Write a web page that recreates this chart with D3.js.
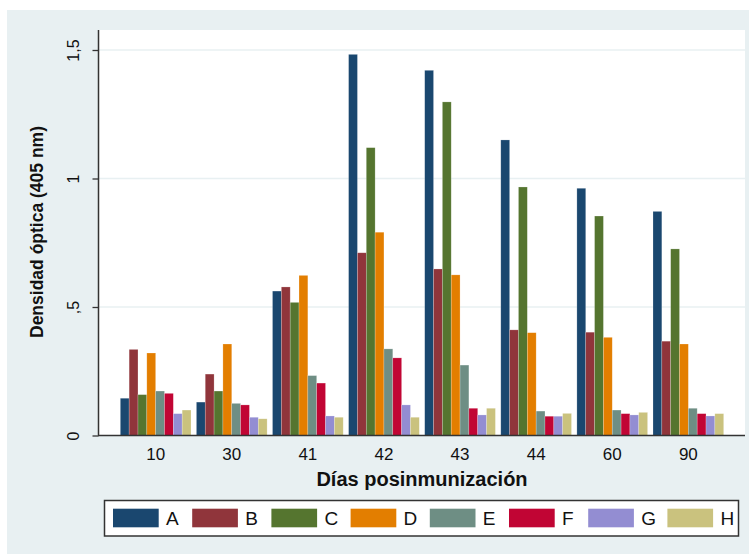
<!DOCTYPE html>
<html>
<head>
<meta charset="utf-8">
<script src="https://cdn.jsdelivr.net/npm/d3@7"></script>
<style>
  html, body { margin: 0; padding: 0; background: #ffffff; }
  svg { display: block; font-family: "Liberation Sans", Arial, sans-serif; }
</style>
</head>
<body>
<svg id="chart" width="750" height="554"></svg>
<script>
// Days after immunization (x categories) and the eight groups (series)
const days = ["10", "30", "41", "42", "43", "44", "60", "90"];
const groups = ["A", "B", "C", "D", "E", "F", "G", "H"];
const colors = ["#1a476f", "#90353b", "#55752f", "#e37e00", "#6e8e84", "#c10534", "#938dd2", "#cac27e"];

// Optical density (405 nm) per group, one value per day
const seriesA = [0.145, 0.130, 0.562, 1.483, 1.421, 1.150, 0.962, 0.872];
const seriesB = [0.335, 0.239, 0.578, 0.711, 0.648, 0.411, 0.402, 0.367];
const seriesC = [0.159, 0.173, 0.518, 1.120, 1.298, 0.967, 0.854, 0.726];
const seriesD = [0.321, 0.356, 0.623, 0.791, 0.625, 0.400, 0.382, 0.356];
const seriesE = [0.173, 0.125, 0.233, 0.337, 0.274, 0.095, 0.099, 0.106];
const seriesF = [0.164, 0.119, 0.204, 0.302, 0.106, 0.075, 0.085, 0.085];
const seriesG = [0.085, 0.071, 0.076, 0.119, 0.080, 0.075, 0.080, 0.076];
const seriesH = [0.099, 0.065, 0.071, 0.071, 0.106, 0.086, 0.090, 0.085];
const series = [seriesA, seriesB, seriesC, seriesD, seriesE, seriesF, seriesG, seriesH];

const yTicks = [0, 0.5, 1, 1.5];
const yTickLabels = ["0", ",5", "1", "1,5"];

const svg = d3.select("#chart");
const bg = "#e8f0f2";
const ink = "#111111";

// Outer graph region
svg.append("rect").attr("x", 7).attr("y", 10).attr("width", 742).attr("height", 544).attr("fill", bg);

// Plot region
const plot = { left: 99, right: 745, top: 30, bottom: 435.5 };
svg.append("rect")
  .attr("x", plot.left).attr("y", plot.top)
  .attr("width", plot.right - plot.left).attr("height", plot.bottom - plot.top)
  .attr("fill", "#ffffff");

const y = d3.scaleLinear().domain([0, 1.5]).range([plot.bottom, plot.bottom - 1.5 * 257]);
const x0 = d3.scaleBand().domain(days).range([plot.left, plot.right])
  .paddingInner(0.071).paddingOuter(0.28);
const x1 = d3.scaleBand().domain(groups).range([0, x0.bandwidth()]);

// Horizontal grid lines
svg.append("g").selectAll("line")
  .data(yTicks.filter(d => d > 0))
  .join("line")
  .attr("x1", plot.left).attr("x2", plot.right)
  .attr("y1", d => y(d)).attr("y2", d => y(d))
  .attr("stroke", bg).attr("stroke-width", 1.5);

// Bars
const rows = days.map((d, i) => ({ day: d, values: groups.map((g, j) => ({ g, j, v: series[j][i] })) }));
svg.append("g").selectAll("g")
  .data(rows)
  .join("g")
  .attr("transform", d => `translate(${x0(d.day)},0)`)
  .selectAll("rect")
  .data(d => d.values)
  .join("rect")
  .attr("x", d => x1(d.g))
  .attr("y", d => y(d.v))
  .attr("width", x1.bandwidth())
  .attr("height", d => y(0) - y(d.v))
  .attr("fill", d => colors[d.j])
  .attr("stroke", "#ffffff").attr("stroke-opacity", 0.35).attr("stroke-width", 0.6);

// Y axis (tick labels rotated, centred on each tick)
const yAxis = d3.axisLeft(y).tickValues(yTicks).tickSize(6).tickPadding(0)
  .tickFormat((d, i) => yTickLabels[i]);
const gy = svg.append("g").attr("transform", `translate(${plot.left - 0.5},0)`).call(yAxis);
gy.select(".domain").attr("stroke", "#333").attr("stroke-width", 1.5)
  .attr("d", `M0,${plot.top}V${plot.bottom}`);
gy.selectAll(".tick line").attr("stroke", "#333").attr("stroke-width", 1.3);
gy.selectAll(".tick text")
  .attr("fill", ink).attr("font-size", 16)
  .attr("text-anchor", "middle")
  .attr("x", -25).attr("y", 0).attr("dy", "0.35em")
  .attr("transform", "rotate(-90, -25, 0)");

// X axis
const xAxis = d3.axisBottom(x0).tickSize(0).tickPadding(12);
const gx = svg.append("g").attr("transform", `translate(0,${plot.bottom})`).call(xAxis);
gx.select(".domain").attr("stroke", "#333").attr("stroke-width", 1.5)
  .attr("d", `M${plot.left - 1},0H${plot.right}`);
gx.selectAll(".tick text").attr("fill", ink).attr("font-size", 17).attr("dy", "0.71em");

// Axis titles
svg.append("text")
  .attr("transform", "translate(43,232) rotate(-90)")
  .attr("text-anchor", "middle")
  .attr("font-size", 17.5).attr("font-weight", "bold").attr("fill", ink)
  .text("Densidad óptica (405 nm)");

svg.append("text")
  .attr("x", 422).attr("y", 485.5)
  .attr("text-anchor", "middle")
  .attr("font-size", 20).attr("font-weight", "bold").attr("fill", ink)
  .text("Días posinmunización");

// Legend
const legend = svg.append("g");
legend.append("rect")
  .attr("x", 104.5).attr("y", 500.5).attr("width", 634).attr("height", 35.5)
  .attr("fill", "#ffffff").attr("stroke", "#333").attr("stroke-width", 1.5);
const item = legend.selectAll("g.item")
  .data(groups)
  .join("g").attr("class", "item")
  .attr("transform", (d, i) => `translate(${113 + i * 79.2},0)`);
item.append("rect")
  .attr("x", 0).attr("y", 508.7).attr("width", 45.7).attr("height", 18.6)
  .attr("fill", (d, i) => colors[i]);
item.append("text")
  .attr("x", 53).attr("y", 518.3).attr("dy", "0.36em")
  .attr("font-size", 19).attr("fill", ink)
  .text(d => d);
</script>
</body>
</html>
